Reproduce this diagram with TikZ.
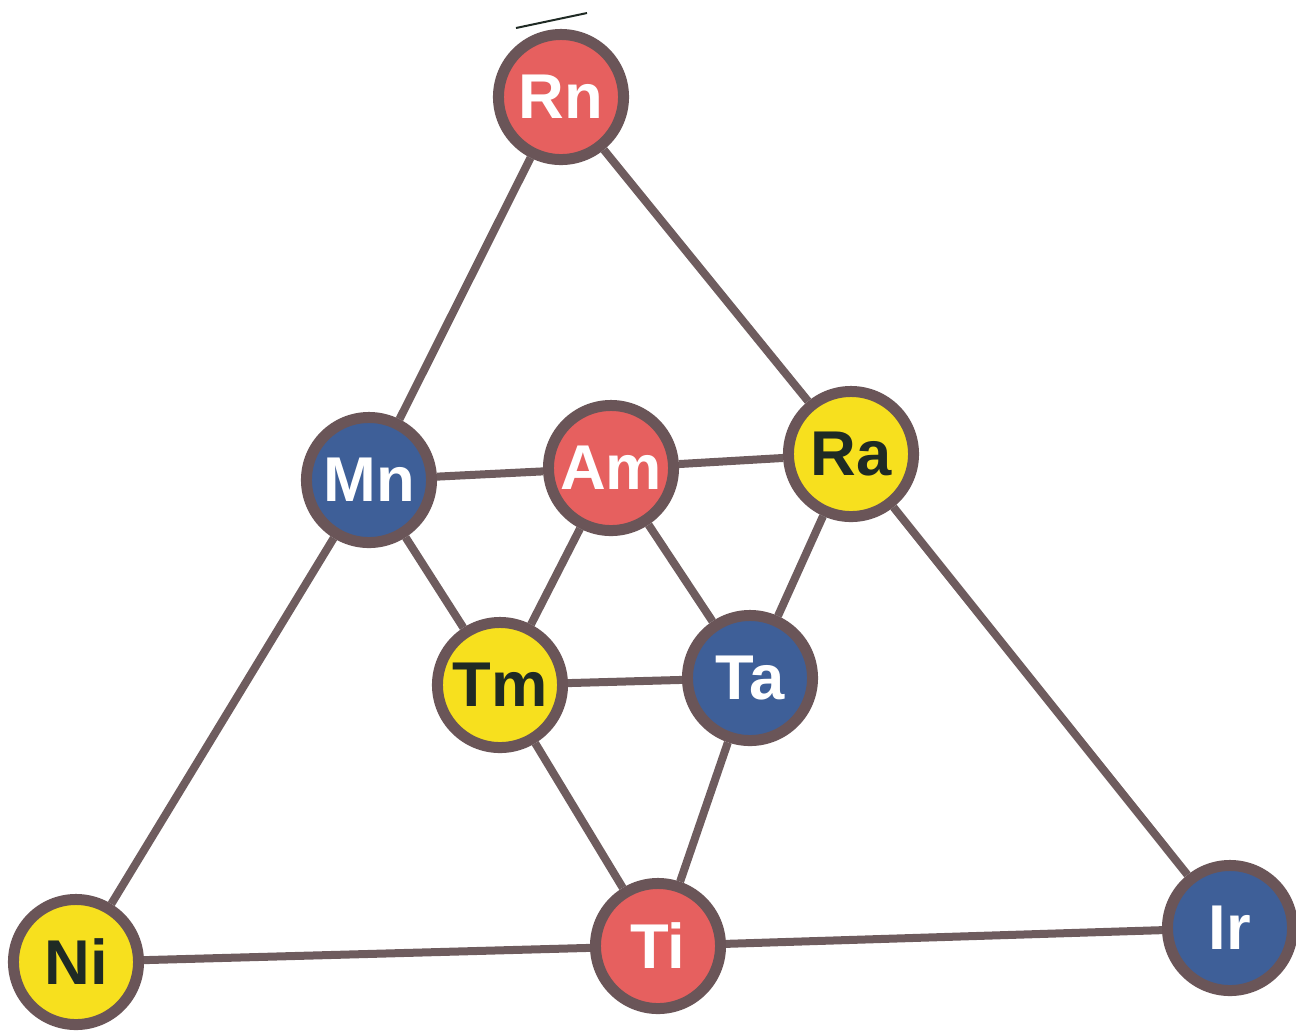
\documentclass[tikz,border=0pt]{standalone}
\usepackage{fontspec}
\setmainfont{Liberation Sans}
\definecolor{ringc}{HTML}{6A5558}
\definecolor{edgec}{HTML}{6E5C5E}
\definecolor{redf}{HTML}{E6605F}
\definecolor{bluef}{HTML}{3E5F98}
\definecolor{yellowf}{HTML}{F7E01E}
\definecolor{darktxt}{HTML}{1F2A24}
\begin{document}
\begin{tikzpicture}[x=0.01cm,y=-0.01cm,
  atom/.style={circle,draw=ringc,line width=0.11cm,minimum size=1.25cm,inner sep=0pt,
    font=\fontsize{18}{21}\selectfont\bfseries},
  redatom/.style={atom,fill=redf,text=white},
  blueatom/.style={atom,fill=bluef,text=white},
  yellowatom/.style={atom,fill=yellowf,text=darktxt},
  bond/.style={draw=edgec,line width=0.08cm}]
\useasboundingbox (0,0) rectangle (1296,1032);
\node[redatom] (Rn) at (561,97) {Rn};
\node[blueatom] (Mn) at (369,480) {Mn};
\node[redatom] (Am) at (611,468) {Am};
\node[yellowatom] (Ra) at (851,454) {Ra};
\node[yellowatom] (Tm) at (500,685) {Tm};
\node[blueatom] (Ta) at (750,678) {Ta};
\node[yellowatom] (Ni) at (76,962) {Ni};
\node[redatom] (Ti) at (658,946) {Ti};
\node[blueatom] (Ir) at (1230,928) {Ir};
\coordinate (s1) at (516,28);
\coordinate (s2) at (587,13);
\draw[draw=darktxt,line width=0.02cm] (s1) -- (s2);
\foreach \a/\b in {Rn/Mn,Rn/Ra,Mn/Am,Am/Ra,Mn/Tm,Am/Tm,Am/Ta,Ra/Ta,Tm/Ta,Tm/Ti,Ta/Ti,Mn/Ni,Ra/Ir,Ni/Ti,Ti/Ir}
  \draw[bond] (\a) -- (\b);
\end{tikzpicture}
\end{document}
